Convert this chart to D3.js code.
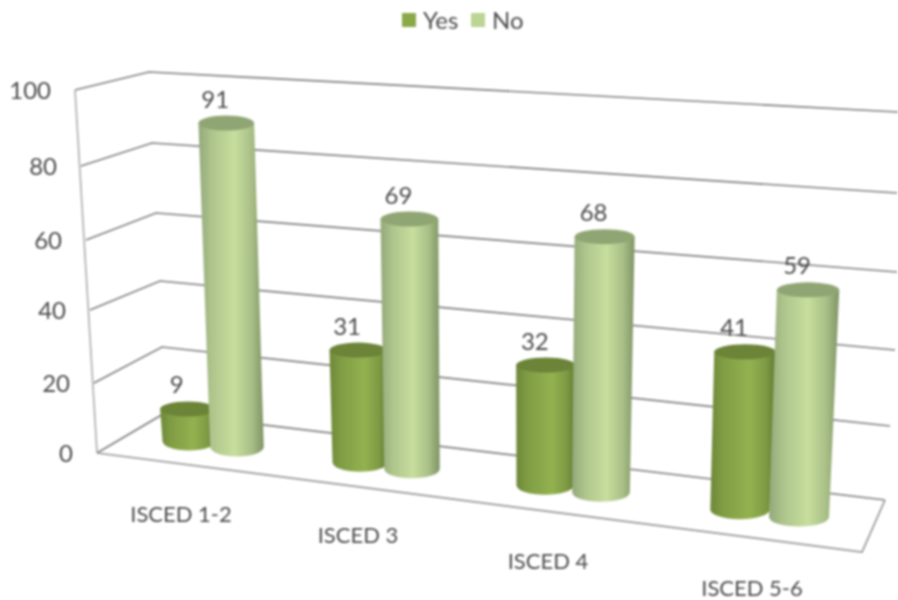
<!DOCTYPE html>
<html><head><meta charset="utf-8">
<script src="https://cdn.jsdelivr.net/npm/d3@7"></script>
<style>html,body{margin:0;background:#fff}#wrap{width:898px;height:600px;filter:blur(.9px)}svg{display:block}text{font-family:Lato,"Open Sans",sans-serif;fill:#4c4c4c}</style>
</head><body><div id="wrap"><svg id="c" width="898" height="600"></svg></div>
<script>
const categories = ["ISCED 1-2", "ISCED 3", "ISCED 4", "ISCED 5-6"];
const seriesNames = ["Yes", "No"];
const yesValues = [9, 31, 32, 41];
const noValues = [91, 69, 68, 59];
const ticks = [0, 20, 40, 60, 80, 100];

const svg = d3.select("#c");
const idx = d3.range(categories.length);

// perspective frame
const frontX = d3.scaleLinear().domain(ticks).range([97, 94, 90, 86, 81, 75]);
const frontY = d3.scaleLinear().domain(ticks).range([453, 383, 310, 240, 166, 90]);
const backLX = d3.scaleLinear().domain(ticks).range([165, 162, 160, 156, 152, 149]);
const backLY = d3.scaleLinear().domain(ticks).range([413, 347, 281, 213, 143, 72]);
const backRX = d3.scaleLinear().domain(ticks).range([885, 890, 895, 897, 897, 898]);
const backRY = d3.scaleLinear().domain(ticks).range([500, 426, 350, 272, 193, 112]);

// positions along the chart
const pairX = d3.scaleLinear().domain(idx).range([213, 386, 573, 769.5]);
const halfGap = d3.scaleLinear().domain(idx).range([24, 26, 28, 29.5]);
const unit = d3.scaleLinear().domain(idx).range([3.56, 3.62, 3.76, 3.85]);
const baseY = d3.scaleLinear().domain([189, 799]).range([441, 517]);
const radius = d3.scaleLinear().domain([189, 799]).range([26.5, 30]);
const lean = d3.scaleLinear().domain([230, 800]).range([.034, -.04]);

// grid
const lineGen = d3.line();
const grid = svg.append("g").attr("fill", "none").attr("stroke", "#808080").attr("stroke-width", 1.7);
ticks.forEach(t => {
  grid.append("path").attr("d", lineGen([
    [frontX(t), frontY(t)], [backLX(t), backLY(t)], [backRX(t), backRY(t)]
  ]));
});
grid.append("path").attr("stroke", "#b0b0b0").attr("d", lineGen([
  [frontX(100), frontY(100)], [frontX(0), frontY(0)]
]));
const floorFront = d3.scaleLinear().domain([0, 1]).range([453, 552]);
const floorFrontX = d3.scaleLinear().domain([0, 1]).range([97, 862]);
grid.append("path").attr("stroke", "#989898").attr("d", lineGen([
  [floorFrontX(0), floorFront(0)], [floorFrontX(1), floorFront(1)], [backRX(0), backRY(0)]
]));

// axis labels
const fs = 24;
svg.append("g").selectAll("text").data(ticks).join("text")
  .attr("x", d => frontX(d) - 24).attr("y", d => frontY(d) - 1)
  .attr("text-anchor", "end").attr("dominant-baseline", "central")
  .attr("font-size", fs).text(d => d);

const catLabelX = d3.scaleLinear().domain(idx).range([181, 358, 548, 752]);
const catLabelY = d3.scaleLinear().domain(idx).range([513, 534, 560, 587]);
svg.append("g").selectAll("text").data(categories).join("text")
  .attr("x", (d, i) => catLabelX(i)).attr("y", (d, i) => catLabelY(i))
  .attr("text-anchor", "middle").attr("dominant-baseline", "central")
  .attr("font-size", 22).text(d => d);

// gradients
const defs = svg.append("defs");
const shades = {
  Yes: { stops: [[0, "#6d8738"], [.18, "#7f9c44"], [.6, "#93b24f"], [.85, "#7e9a44"], [1, "#607a30"]], top: "#6b8438" },
  No: { stops: [[0, "#93a87a"], [.2, "#aec48c"], [.55, "#c7de9e"], [.82, "#a8be86"], [1, "#7e9365"]], top: "#8fa674" }
};
seriesNames.forEach(s => {
  const g = defs.append("linearGradient").attr("id", "g" + s);
  shades[s].stops.forEach(([o, c]) => g.append("stop").attr("offset", o).attr("stop-color", c));
});

// cylinders
const cylinders = [];
idx.forEach(i => {
  seriesNames.forEach((s, k) => {
    const v = (k === 0 ? yesValues : noValues)[i];
    const bx = pairX(i) + (k === 0 ? -1 : 1) * halfGap(i);
    const by = baseY(bx);
    const h = v * unit(i);
    const tx = bx - lean(bx) * h;
    const ty = by - h;
    const rb = radius(bx);
    const rt = rb * 1.04;
    cylinders.push({ s, v, bx, by, tx, ty, rb, rt });
  });
});
const cyl = svg.append("g").selectAll("g").data(cylinders).join("g");
cyl.append("path")
  .attr("fill", d => `url(#g${d.s})`)
  .attr("d", d => `M${d.tx - d.rt},${d.ty}L${d.bx - d.rb},${d.by}A${d.rb},9.5 0 0 0 ${d.bx + d.rb},${d.by}L${d.tx + d.rt},${d.ty}Z`);
cyl.append("ellipse")
  .attr("cx", d => d.tx).attr("cy", d => d.ty)
  .attr("rx", d => d.rt).attr("ry", 7.5)
  .attr("fill", d => shades[d.s].top);

// value labels
svg.append("g").selectAll("text").data(cylinders).join("text")
  .attr("x", d => d.tx - 11).attr("y", d => d.ty - 25)
  .attr("text-anchor", "middle").attr("dominant-baseline", "central")
  .attr("font-size", fs).text(d => d.v);

// legend
const legendX = d3.scalePoint().domain(seriesNames).range([402, 471]);
const leg = svg.append("g").selectAll("g").data(seriesNames).join("g")
  .attr("transform", d => `translate(${legendX(d)},13)`);
leg.append("rect").attr("width", 14).attr("height", 14)
  .attr("fill", d => d === "Yes" ? "#8aa948" : "#bcd494");
leg.append("text").attr("x", 21).attr("y", 6).attr("dominant-baseline", "central")
  .attr("font-size", 24).text(d => d);
</script></body></html>
